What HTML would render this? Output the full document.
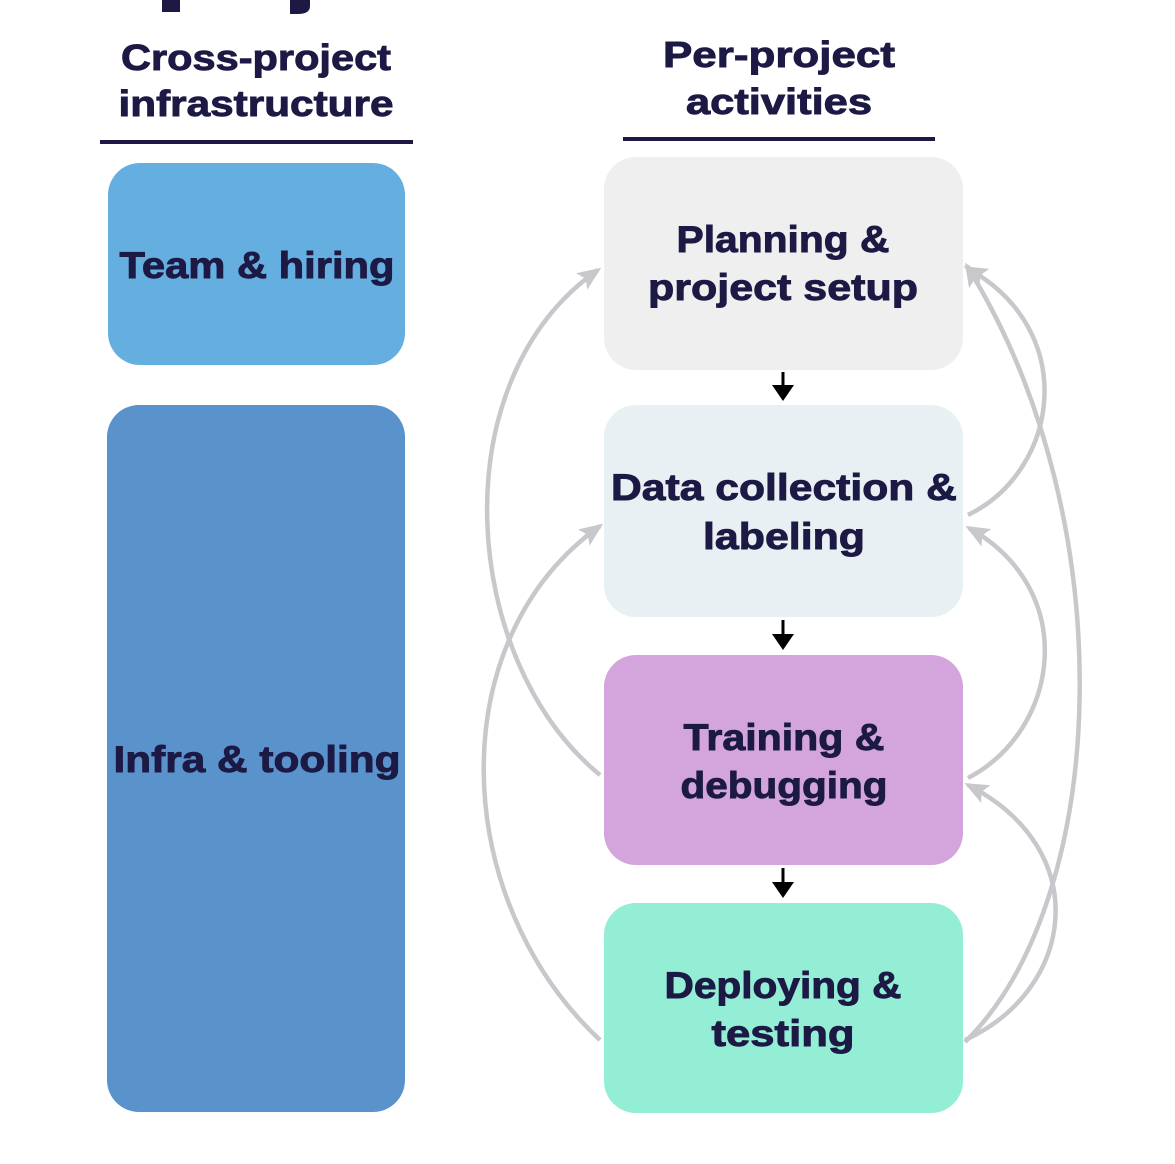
<!DOCTYPE html>
<html><head><style>
body{margin:0;background:#fff;}
svg{display:block;}
text{font-family:"Liberation Sans",sans-serif;font-weight:bold;fill:#1c1a45;stroke:#1c1a45;stroke-width:0.9;text-anchor:middle;}
</style></head><body>
<svg width="1175" height="1164" viewBox="0 0 1175 1164">
<defs>
<marker id="g" markerWidth="24" markerHeight="20" refX="20" refY="10" orient="auto" markerUnits="userSpaceOnUse" viewBox="0 0 24 20"><path d="M0,0 L24,10 L0,20 L5,10 z" fill="#c8c8cc"/></marker>
</defs>
<rect x="162" y="0" width="18" height="12" fill="#1c1a45"/>
<path d="M290 0 h20 v6 q0 8 -12 8 h-8 z" fill="#1c1a45"/>
<text x="256" y="70" font-size="36" textLength="270" lengthAdjust="spacingAndGlyphs">Cross-project</text>
<text x="256" y="116" font-size="36" textLength="275" lengthAdjust="spacingAndGlyphs">infrastructure</text>
<rect x="100" y="140" width="313" height="4" fill="#1c1a45"/>
<text x="779" y="67" font-size="36" textLength="232" lengthAdjust="spacingAndGlyphs">Per-project</text>
<text x="779" y="114" font-size="36" textLength="186" lengthAdjust="spacingAndGlyphs">activities</text>
<rect x="623" y="137" width="312" height="4" fill="#1c1a45"/>

<rect x="108" y="163" width="297" height="202" rx="32" fill="#65aee0"/>
<text x="257" y="278" font-size="37" textLength="275" lengthAdjust="spacingAndGlyphs">Team &amp; hiring</text>
<rect x="107" y="405" width="298" height="707" rx="32" fill="#5a92cb"/>
<text x="257" y="772" font-size="37" textLength="287" lengthAdjust="spacingAndGlyphs">Infra &amp; tooling</text>

<rect x="604" y="157" width="359" height="213" rx="32" fill="#efefef"/>
<text x="783" y="252" font-size="37" textLength="213" lengthAdjust="spacingAndGlyphs">Planning &amp;</text>
<text x="783" y="300" font-size="37" textLength="270" lengthAdjust="spacingAndGlyphs">project setup</text>
<rect x="604" y="405" width="359" height="212" rx="32" fill="#e8f0f3"/>
<text x="784" y="500" font-size="37" textLength="346" lengthAdjust="spacingAndGlyphs">Data collection &amp;</text>
<text x="784" y="549" font-size="37" textLength="162" lengthAdjust="spacingAndGlyphs">labeling</text>
<rect x="604" y="655" width="359" height="210" rx="32" fill="#d3a5dc"/>
<text x="784" y="750" font-size="37" textLength="201" lengthAdjust="spacingAndGlyphs">Training &amp;</text>
<text x="784" y="798" font-size="37" textLength="207" lengthAdjust="spacingAndGlyphs">debugging</text>
<rect x="604" y="903" width="359" height="210" rx="32" fill="#93eed5"/>
<text x="783" y="998" font-size="37" textLength="237" lengthAdjust="spacingAndGlyphs">Deploying &amp;</text>
<text x="783" y="1046" font-size="37" textLength="143" lengthAdjust="spacingAndGlyphs">testing</text>

<g stroke="#000" stroke-width="3">
<line x1="783" y1="372" x2="783" y2="388"/><line x1="783" y1="620" x2="783" y2="637"/><line x1="783" y1="868" x2="783" y2="885"/>
</g>
<g fill="#000">
<path d="M772 385 h22 l-11 16 z"/><path d="M772 634 h22 l-11 16 z"/><path d="M772 882 h22 l-11 16 z"/>
</g>

<g fill="none" stroke="#c8c8cc" stroke-width="4.5" marker-end="url(#g)">
<path d="M968 515 C1060 470 1080 330 967 268"/>
<path d="M968 778 C1060 730 1080 590 969 528"/>
<path d="M965 1040 C1075 990 1095 850 968 785"/>
<path d="M965 1042 C1110 900 1125 520 967 266"/>
<path d="M600 775 C460 660 440 380 598 270"/>
<path d="M600 1040 C450 900 440 640 600 526"/>
</g>
</svg>
</body></html>
